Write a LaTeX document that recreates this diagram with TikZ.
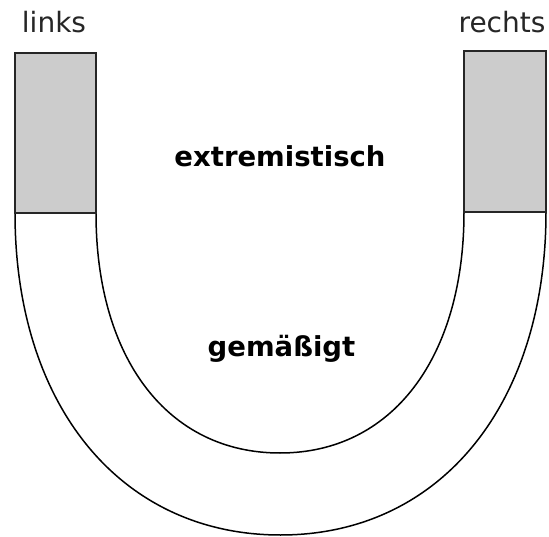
\documentclass[tikz,border=0pt]{standalone}
\usepackage{fontspec}
\newfontfamily\labelfont{DejaVu Sans}
\tikzset{
  arcline/.style={draw=black, line width=1.5pt},
  pole/.style={draw=black!85, line width=2pt, fill=black!20},
  sidelabel/.style={font=\labelfont\fontsize{28}{30}\selectfont, text=black!85, anchor=base, inner sep=0pt},
  zonelabel/.style={font=\labelfont\bfseries\fontsize{27.5}{30}\selectfont, anchor=base, inner sep=0pt},
}
\begin{document}
\begin{tikzpicture}[x=1pt,y=-1pt]
\useasboundingbox[fill=white] (0,0) rectangle (549,537);
% outer arc
\coordinate (oL) at (15,213);
\coordinate (oB) at (280.5,535);
\coordinate (oR) at (546,212);
\draw[arcline] (oL) .. controls (15,406) and (121,535) .. (oB)
                    .. controls (440,535) and (546,405) .. (oR);
% inner arc
\coordinate (iL) at (96,213);
\coordinate (iB) at (280,453);
\coordinate (iR) at (464,212);
\draw[arcline] (iL) .. controls (96,359) and (168,453) .. (iB)
                    .. controls (392,453) and (464,358) .. (iR);
% poles
\draw[pole] (15,53) rectangle (96,213);
\draw[pole] (464,51) rectangle (546,212);
% labels
\node[sidelabel] (links) at (54,33) {links};
\node[sidelabel] (rechts) at (502,33) {rechts};
\node[zonelabel] (extrem) at (280,167) {extremistisch};
\node[zonelabel] (gem) at (281.5,356) {gemäßigt};
\end{tikzpicture}
\end{document}
